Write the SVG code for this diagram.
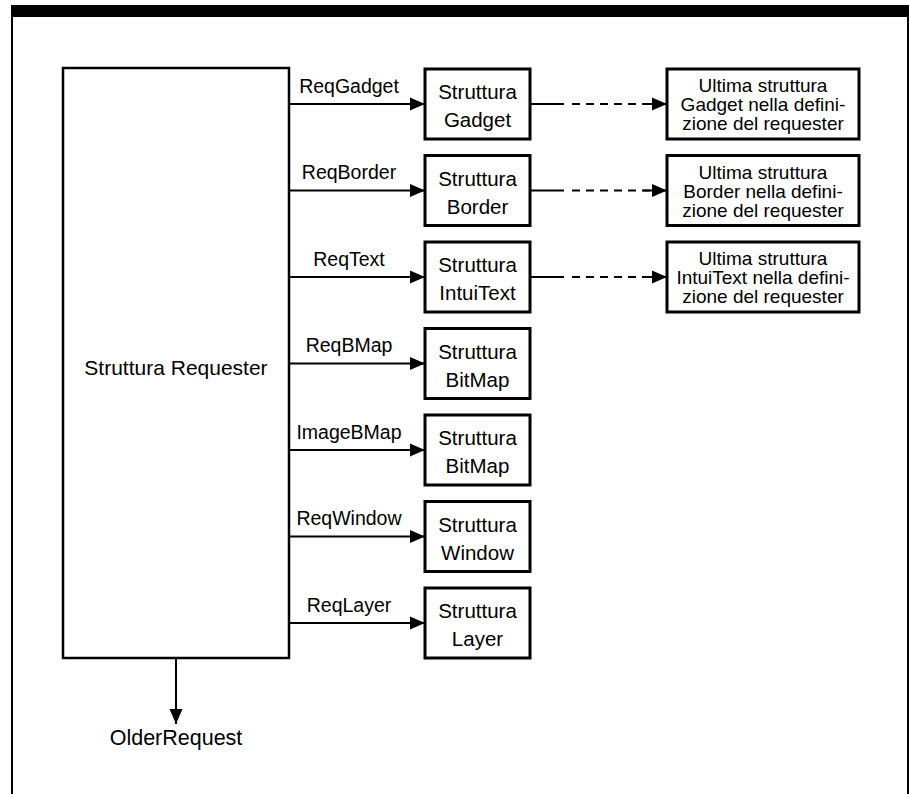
<svg xmlns="http://www.w3.org/2000/svg" width="909" height="794" viewBox="0 0 909 794">
<style>
  text { font-family: "Liberation Sans", Arial, sans-serif; fill: #000; }
  .box { fill: #fff; stroke: #000; stroke-width: 3; }
  .main { fill: #fff; stroke: #000; stroke-width: 2.5; }
  .line { fill: none; stroke: #000; stroke-width: 2; }
  .dash { fill: none; stroke: #000; stroke-width: 2; stroke-dasharray: 8 6; }
  .lbl { font-size: 19.5px; text-anchor: middle; }
  .bt { font-size: 20.5px; text-anchor: middle; }
  .rt { font-size: 19px; text-anchor: middle; }
</style>
<defs>
  <marker id="ah" markerUnits="userSpaceOnUse" markerWidth="16" markerHeight="14" refX="15" refY="7" orient="auto">
    <polygon points="0,0.5 15,7 0,13.5" fill="#000"/>
  </marker>
</defs>
<rect width="909" height="794" fill="#fff"/>
<g id="frame">
  <rect x="11" y="5" width="898" height="12" fill="#000"/>
  <line x1="12" y1="16" x2="12" y2="794" stroke="#000" stroke-width="2"/>
  <line x1="908" y1="16" x2="908" y2="794" stroke="#000" stroke-width="2"/>
</g>
<g id="connectors">
  <line class="line" x1="289" y1="104" x2="425" y2="104" marker-end="url(#ah)"/>
  <line class="line" x1="289" y1="190.5" x2="425" y2="190.5" marker-end="url(#ah)"/>
  <line class="line" x1="289" y1="277" x2="425" y2="277" marker-end="url(#ah)"/>
  <line class="line" x1="289" y1="363.5" x2="425" y2="363.5" marker-end="url(#ah)"/>
  <line class="line" x1="289" y1="450" x2="425" y2="450" marker-end="url(#ah)"/>
  <line class="line" x1="289" y1="536.5" x2="425" y2="536.5" marker-end="url(#ah)"/>
  <line class="line" x1="289" y1="623" x2="425" y2="623" marker-end="url(#ah)"/>
  <line class="line" x1="176" y1="658" x2="176" y2="724" marker-end="url(#ah)"/>
  <g id="dashed">
    <line class="line" x1="530" y1="104" x2="564" y2="104"/>
    <line class="dash" x1="572" y1="104" x2="650" y2="104"/>
    <line class="line" x1="643" y1="104" x2="667" y2="104" marker-end="url(#ah)"/>
    <line class="line" x1="530" y1="190.5" x2="564" y2="190.5"/>
    <line class="dash" x1="572" y1="190.5" x2="650" y2="190.5"/>
    <line class="line" x1="643" y1="190.5" x2="667" y2="190.5" marker-end="url(#ah)"/>
    <line class="line" x1="530" y1="277" x2="564" y2="277"/>
    <line class="dash" x1="572" y1="277" x2="650" y2="277"/>
    <line class="line" x1="643" y1="277" x2="667" y2="277" marker-end="url(#ah)"/>
  </g>
  <text class="lbl" x="349" y="92.5">ReqGadget</text>
  <text class="lbl" x="349" y="179">ReqBorder</text>
  <text class="lbl" x="349" y="265.5">ReqText</text>
  <text class="lbl" x="349" y="352">ReqBMap</text>
  <text class="lbl" x="349" y="438.5">ImageBMap</text>
  <text class="lbl" x="349" y="525">ReqWindow</text>
  <text class="lbl" x="349" y="611.5">ReqLayer</text>
</g>
<g id="requester">
  <rect class="main" x="63" y="68" width="226" height="590"/>
  <text x="176" y="375" font-size="21" text-anchor="middle">Struttura Requester</text>
</g>
<g id="older-request">
  <text x="176" y="745" font-size="21.5" text-anchor="middle">OlderRequest</text>
</g>
<g id="gadget">
  <rect class="box" x="425" y="69" width="105" height="70"/>
  <text class="bt" x="477.5" y="99">Struttura</text>
  <text class="bt" x="477.5" y="127">Gadget</text>
</g>
<g id="border">
  <rect class="box" x="425" y="155.5" width="105" height="70"/>
  <text class="bt" x="477.5" y="185.5">Struttura</text>
  <text class="bt" x="477.5" y="213.5">Border</text>
</g>
<g id="intuitext">
  <rect class="box" x="425" y="242" width="105" height="70"/>
  <text class="bt" x="477.5" y="272">Struttura</text>
  <text class="bt" x="477.5" y="300">IntuiText</text>
</g>
<g id="bitmap1">
  <rect class="box" x="425" y="328.5" width="105" height="70"/>
  <text class="bt" x="477.5" y="358.5">Struttura</text>
  <text class="bt" x="477.5" y="386.5">BitMap</text>
</g>
<g id="bitmap2">
  <rect class="box" x="425" y="415" width="105" height="70"/>
  <text class="bt" x="477.5" y="445">Struttura</text>
  <text class="bt" x="477.5" y="473">BitMap</text>
</g>
<g id="window">
  <rect class="box" x="425" y="501.5" width="105" height="70"/>
  <text class="bt" x="477.5" y="531.5">Struttura</text>
  <text class="bt" x="477.5" y="559.5">Window</text>
</g>
<g id="layer">
  <rect class="box" x="425" y="588" width="105" height="70"/>
  <text class="bt" x="477.5" y="618">Struttura</text>
  <text class="bt" x="477.5" y="646">Layer</text>
</g>
<g id="last-gadget">
  <rect class="box" x="667" y="69" width="192" height="70"/>
  <text class="rt" x="763" y="92">Ultima struttura</text>
  <text class="rt" x="763" y="111">Gadget nella defini-</text>
  <text class="rt" x="763" y="130">zione del requester</text>
</g>
<g id="last-border">
  <rect class="box" x="667" y="155.5" width="192" height="70"/>
  <text class="rt" x="763" y="178.5">Ultima struttura</text>
  <text class="rt" x="763" y="197.5">Border nella defini-</text>
  <text class="rt" x="763" y="216.5">zione del requester</text>
</g>
<g id="last-intuitext">
  <rect class="box" x="667" y="242" width="192" height="70"/>
  <text class="rt" x="763" y="265">Ultima struttura</text>
  <text class="rt" x="763" y="284">IntuiText nella defini-</text>
  <text class="rt" x="763" y="303">zione del requester</text>
</g>
</svg>
